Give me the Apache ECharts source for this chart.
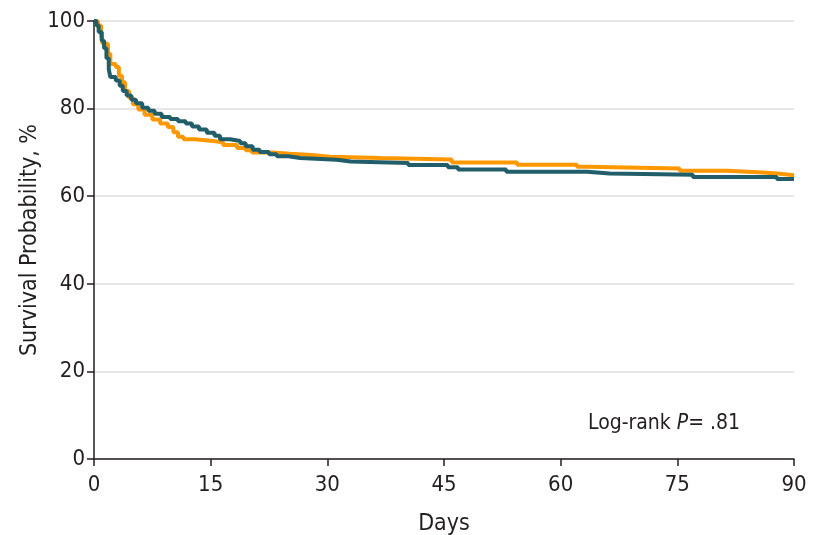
<!DOCTYPE html>
<html>
<head>
<meta charset="utf-8">
<script src="https://cdn.jsdelivr.net/npm/echarts@6/dist/echarts.min.js"></script>
<style>html,body{margin:0;padding:0;background:#fff}#c{width:813px;height:535px}</style>
</head>
<body>
<div id="c"></div>
<script>
const xTicks = [0, 15, 30, 45, 60, 75, 90];
const yTicks = [0, 20, 40, 60, 80, 100];
const orangeSeries = [[0,100],[0.5,99],[0.9,97],[1.1,94.8],[1.8,92.5],[2.1,90.2],[2.8,89.5],[3.2,87.5],[3.6,86],[4.0,84],[4.5,82.5],[5.0,81],[5.7,79.8],[6.5,78.6],[7.5,77.5],[8.5,76.6],[9.5,75.8],[10.2,74.6],[10.8,73.6],[11.5,73],[13,72.6],[15.3,72.3],[16.6,71.7],[18.4,71],[19.5,70.5],[20.3,70],[23,69.7],[25.2,69.4],[28,69],[30.3,68.7],[36.8,68.4],[46,67.7],[54.4,67.2],[62.1,66.7],[63.5,66.3],[75.3,65.8],[81.4,65.4],[86,65.1],[88.2,64.8],[90,64.8]];
const tealSeries = [[0,100],[0.3,99],[0.6,97.5],[1.0,95.5],[1.3,93.8],[1.6,91.5],[1.9,89],[2.1,87.2],[2.8,86.4],[3.3,85.2],[3.7,84],[4.2,83],[4.8,82],[5.4,81.2],[6.2,80.2],[7.0,79.5],[7.8,78.8],[8.7,78.1],[9.8,77.6],[10.8,77.1],[11.8,76.6],[12.6,75.9],[13.5,75.2],[14.5,74.5],[15.5,73.8],[16.2,73],[17.5,72.6],[18.8,72.1],[19.5,71.4],[20.4,70.6],[21.3,70.1],[22.5,69.6],[23.5,69.1],[25,68.7],[26.5,68.3],[31.2,67.9],[33,67.6],[40.4,67.1],[45.5,66.6],[46.8,66.1],[53,65.6],[63.4,65.2],[66.3,64.9],[77,64.4],[87.8,63.9],[90,63.9]];
const xName = 'Days';
const yName = 'Survival Probability, %';

const FONT = "'Liberation Sans Narrow', 'DejaVu Sans Condensed', sans-serif";
const TXT = '#231f20';
const chart = echarts.init(document.getElementById('c'), null, {renderer: 'canvas'});
chart.setOption({
  animation: false,
  grid: {left: 94, right: 19, top: 21, bottom: 76, containLabel: false, outerBoundsMode: 'none'},
  xAxis: {
    type: 'value', min: xTicks[0], max: xTicks[xTicks.length - 1], interval: 15,
    name: xName, nameLocation: 'middle', nameGap: 54, nameMoveOverlap: false,
    nameTextStyle: {fontFamily: FONT, fontSize: 23, color: TXT},
    axisLine: {show: true, onZero: false, lineStyle: {color: TXT, width: 1.5}},
    axisTick: {show: true, length: 7, lineStyle: {color: TXT, width: 1.5}},
    axisLabel: {fontFamily: FONT, fontSize: 22, color: TXT, margin: 15},
    splitLine: {show: false}
  },
  yAxis: {
    type: 'value', min: yTicks[0], max: yTicks[yTicks.length - 1], interval: 20,
    name: yName, nameLocation: 'middle', nameGap: 52, nameMoveOverlap: false,
    nameTextStyle: {fontFamily: FONT, fontSize: 23, color: TXT},
    axisLine: {show: true, onZero: false, lineStyle: {color: TXT, width: 1.5}},
    axisTick: {show: true, length: 7, lineStyle: {color: TXT, width: 1.5}},
    axisLabel: {fontFamily: FONT, fontSize: 22, color: TXT, margin: 9},
    splitLine: {show: true, lineStyle: {color: '#dedede', width: 1.5}}
  },
  series: [
    {type: 'line', step: 'end', data: orangeSeries, symbol: 'none',
     lineStyle: {color: '#ff9800', width: 4}, z: 2},
    {type: 'line', step: 'end', data: tealSeries, symbol: 'none',
     lineStyle: {color: '#225e69', width: 4}, z: 3}
  ],
  graphic: [{
    type: 'text', left: 588, top: 413,
    style: {
      text: '{a|Log-rank }{b|P}{a|= .81}',
      rich: {
        a: {fontFamily: FONT, fontSize: 21, fill: TXT},
        b: {fontFamily: FONT, fontSize: 21, fontStyle: 'italic', fill: TXT}
      }
    }
  }]
});
</script>
</body>
</html>
